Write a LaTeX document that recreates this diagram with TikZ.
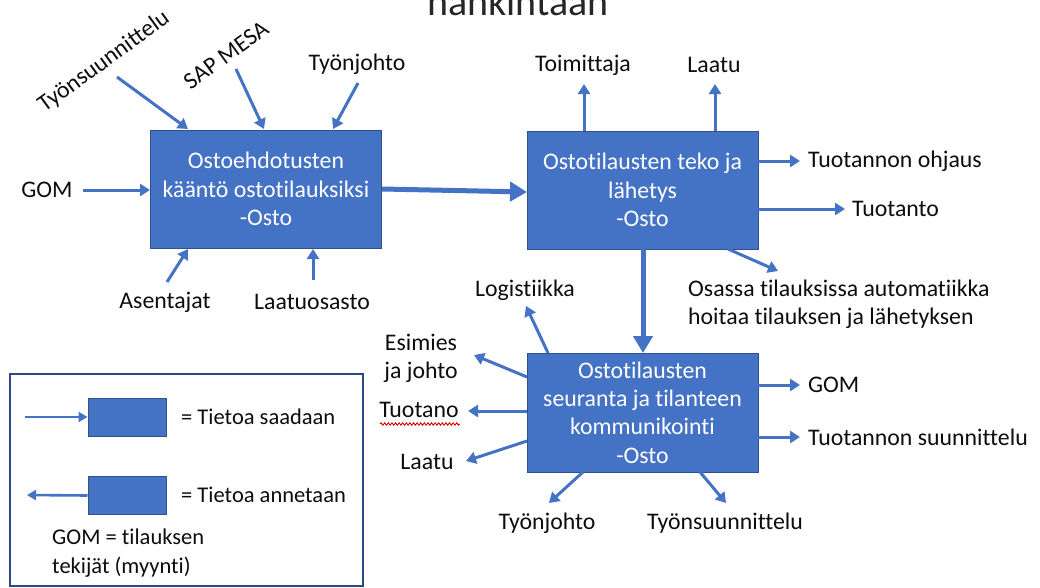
\documentclass[tikz,border=0pt]{standalone}
\usepackage{fontspec}
\setmainfont{Carlito}[Ligatures=NoCommon]
\usetikzlibrary{arrows.meta,decorations.pathmorphing}
\definecolor{boxblue}{HTML}{4472C4}
\definecolor{boxedge}{HTML}{2F528F}
\definecolor{frameblue}{HTML}{2E4A86}
\definecolor{inktext}{HTML}{0D0D0D}
\definecolor{titlegray}{HTML}{262626}

\begin{document}
\begin{tikzpicture}[x=1pt,y=-1pt,
  proc/.style={draw=boxedge,line width=1pt,fill=boxblue,text=white,align=center,
    font=\fontsize{23.8}{28.3}\selectfont,inner sep=0pt,
    minimum width=231pt,minimum height=118pt},
  keybox/.style={draw=boxedge,line width=1pt,fill=boxblue,inner sep=0pt,
    minimum width=78pt,minimum height=38pt},
  lbl/.style={font=\fontsize{23.8}{28.3}\selectfont,text=inktext,inner sep=0pt,align=center},
  keytext/.style={font=\fontsize{22.5}{29}\selectfont,text=inktext,inner sep=0pt,align=left},
  flow/.style={draw=boxblue,line width=3pt,-{Triangle[length=10pt,width=12pt]}},
  bigflow/.style={draw=boxblue,line width=5pt,-{Triangle[length=17pt,width=19pt]}},
  keyflow/.style={draw=boxblue,line width=2.6pt,-{Triangle[length=9pt,width=10pt]}}]

\useasboundingbox (0,0) rectangle (1040,587);

% heading, cut off by the top edge
\node[font=\fontsize{40}{48}\selectfont,text=titlegray,anchor=base,inner sep=0pt] (title) at (518,15) {hankintaan};

% the three process boxes
\node[proc] (b1) at (266,189) {Ostoehdotusten\\kääntö ostotilauksiksi\\-Osto};
\node[proc] (b2) at (642.5,190) {Ostotilausten teko ja\\lähetys\\-Osto};
\node[proc,minimum height=119pt] (b3) at (642.5,412.5) {Ostotilausten\\seuranta ja tilanteen\\kommunikointi\\-Osto};

% sources feeding the first box
\node[lbl,rotate=36] (tsu1) at (104,62) {Työnsuunnittelu};
\node[lbl,rotate=36] (sap) at (226,55) {SAP MESA};
\node[lbl] (tj1) at (357,64) {Työnjohto};
\node[lbl] (gom1) at (47,190) {GOM};
\node[lbl] (ase) at (165,302) {Asentajat};
\node[lbl] (lo) at (312,302) {Laatuosasto};

% receivers of the second box
\node[lbl] (toim) at (583,65) {Toimittaja};
\node[lbl] (laatu2) at (714,65) {Laatu};
\node[lbl,anchor=west] (tohj) at (808,161) {Tuotannon ohjaus};
\node[lbl,anchor=west] (tuot) at (852,209) {Tuotanto};
\node[lbl,anchor=west,align=left] (auto) at (688,304) {Osassa tilauksissa automatiikka\\hoitaa tilauksen ja lähetyksen};

% receivers of the third box
\node[lbl] (logi) at (525,290) {Logistiikka};
\node[lbl] (esim) at (421,358) {Esimies\\ja johto};
\node[lbl] (tuotano) at (419,410) {Tuotano};
\node[lbl] (laatu3) at (427,462) {Laatu};
\node[lbl] (tj3) at (547,523) {Työnjohto};
\node[lbl] (tsu3) at (725,523) {Työnsuunnittelu};
\node[lbl,anchor=west] (gom3) at (808,385) {GOM};
\node[lbl,anchor=west] (tsuun) at (808,437) {Tuotannon suunnittelu};

% spell-check squiggle under "Tuotano"
\coordinate (sqa) at (380,424);
\coordinate (sqb) at (460,424);
\draw[red!85!black,line width=0.9pt,decorate,decoration={snake,amplitude=1.2pt,segment length=3.6pt}] (sqa) -- (sqb);

% arrow end points
\coordinate (i1s) at (117,77);  \coordinate (i1e) at (188,129);
\coordinate (i2s) at (236,69);  \coordinate (i2e) at (264,129);
\coordinate (i3s) at (358,83);  \coordinate (i3e) at (333,129);
\coordinate (i4s) at (83,190);  \coordinate (i4e) at (150,190);
\coordinate (i5s) at (167,282); \coordinate (i5e) at (188,249);
\coordinate (i6s) at (313,280); \coordinate (i6e) at (313,249);
\coordinate (m1s) at (382,189); \coordinate (m1e) at (527,192);
\coordinate (o1s) at (584,131); \coordinate (o1e) at (584,84);
\coordinate (o2s) at (715,131); \coordinate (o2e) at (715,84);
\coordinate (o3s) at (758,161); \coordinate (o3e) at (800,161);
\coordinate (o4s) at (758,209); \coordinate (o4e) at (845,209);
\coordinate (o5s) at (728,249); \coordinate (o5e) at (778,271);
\coordinate (m2s) at (643,249); \coordinate (m2e) at (643,353);
\coordinate (p1s) at (548,353); \coordinate (p1e) at (526,306);
\coordinate (p2s) at (527,377); \coordinate (p2e) at (474,355);
\coordinate (p3s) at (527,411); \coordinate (p3e) at (468,411);
\coordinate (p4s) at (527,441); \coordinate (p4e) at (466,461);
\coordinate (p5s) at (583,472); \coordinate (p5e) at (549,503);
\coordinate (p6s) at (700,472); \coordinate (p6e) at (726,503);
\coordinate (p7s) at (758,385); \coordinate (p7e) at (800,385);
\coordinate (p8s) at (758,437); \coordinate (p8e) at (800,437);

% incoming information
\draw[flow] (i1s) -- (i1e);
\draw[flow] (i2s) -- (i2e);
\draw[flow] (i3s) -- (i3e);
\draw[flow] (i4s) -- (i4e);
\draw[flow] (i5s) -- (i5e);
\draw[flow] (i6s) -- (i6e);

% main flow between the boxes
\draw[bigflow] (m1s) -- (m1e);
\draw[bigflow] (m2s) -- (m2e);

% outgoing information
\foreach \a in {o1,o2,o3,o4,o5,p1,p2,p3,p4,p5,p6,p7,p8}
  \draw[flow] (\a s) -- (\a e);

% legend
\node[draw=frameblue,line width=2.2pt,inner sep=0pt,minimum width=353pt,minimum height=212pt] (key) at (186.5,480) {};
\node[keybox] (k1) at (127,417) {};
\node[keybox] (k2) at (127,495.5) {};
\coordinate (k1s) at (25,417);
\coordinate (k2e) at (27,495);
\draw[keyflow] (k1s) -- (k1.west);
\draw[keyflow] (k2.west) -- (k2e);
\node[keytext,anchor=west] (k1t) at (181,417) {= Tietoa saadaan};
\node[keytext,anchor=west] (k2t) at (181,495) {= Tietoa annetaan};
\node[keytext,anchor=west] (k3t) at (52,553) {GOM = tilauksen\\tekijät (myynti)};

\end{tikzpicture}
\end{document}
